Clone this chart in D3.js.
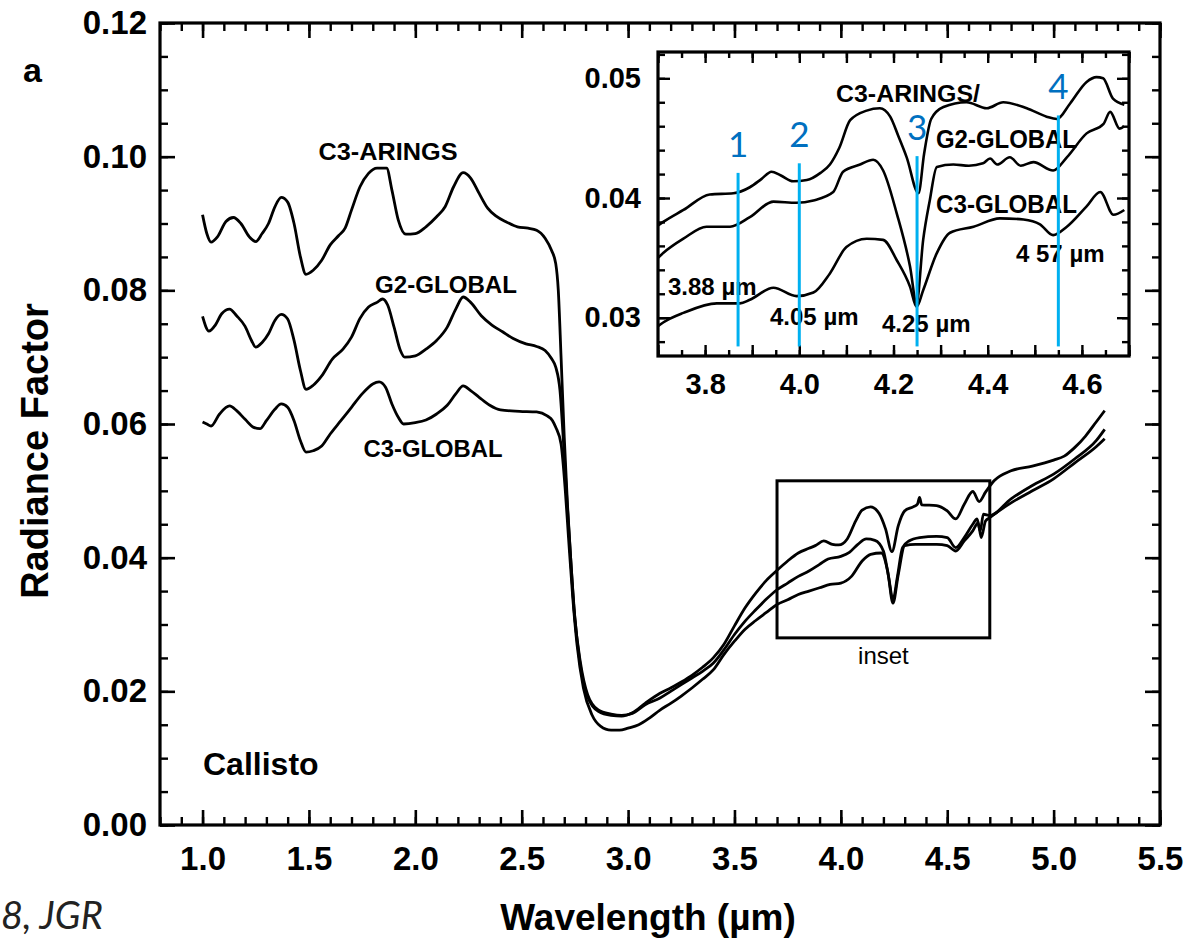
<!DOCTYPE html>
<html><head><meta charset="utf-8">
<script src="https://cdn.jsdelivr.net/npm/d3@7"></script>
<style>
html,body{margin:0;padding:0;background:#fff;}
svg{display:block;}
</style></head>
<body>
<svg id="chart" width="1188" height="942"></svg>
<script>
// ---------------- DATA ----------------
const mainXTicks = [1.0, 1.5, 2.0, 2.5, 3.0, 3.5, 4.0, 4.5, 5.0, 5.5];
const mainYTicks = [0.00, 0.02, 0.04, 0.06, 0.08, 0.10, 0.12];
const insetXTicks = [3.8, 4.0, 4.2, 4.4, 4.6];
const insetYTicks = [0.03, 0.04, 0.05];
const seriesNames = ["C3-ARINGS", "G2-GLOBAL", "C3-GLOBAL"];

const c3Arings = [
 [1.00,0.0913],[1.02,0.0885],[1.04,0.0872],[1.07,0.0880],[1.11,0.0903],[1.145,0.0909],[1.18,0.0900],
 [1.22,0.0880],[1.25,0.0873],[1.28,0.0885],[1.31,0.0900],[1.34,0.0925],[1.37,0.0939],[1.40,0.0932],
 [1.43,0.0900],[1.46,0.0850],[1.486,0.0824],[1.52,0.0830],[1.56,0.0845],[1.60,0.0868],[1.64,0.0882],
 [1.67,0.0893],[1.70,0.0920],[1.74,0.0955],[1.78,0.0975],[1.82,0.0983],[1.865,0.0983],[1.89,0.0950],
 [1.92,0.0905],[1.955,0.0884],[2.00,0.0885],[2.05,0.0895],[2.10,0.0910],[2.14,0.0925],[2.18,0.0955],
 [2.225,0.0976],[2.26,0.0968],[2.30,0.0945],[2.34,0.0923],[2.38,0.0911],[2.43,0.0902],[2.48,0.0895],
 [2.53,0.0893],[2.57,0.0890],[2.61,0.0878],[2.64,0.0860],[2.66,0.0840],[2.672,0.0800],[2.685,0.0700],
 [2.70,0.0580],[2.715,0.0480],[2.73,0.0400],[2.75,0.0310],[2.775,0.0240],[2.81,0.0192],[2.86,0.0170],
 [2.92,0.0164],[2.97,0.0163],[3.02,0.0168],[3.08,0.0182],[3.15,0.0197],[3.20,0.0205],[3.25,0.0214],
 [3.30,0.0224],[3.35,0.0236],[3.40,0.0250],[3.45,0.0270],[3.50,0.0298],[3.55,0.0325],[3.60,0.0347],
 [3.65,0.0366],[3.70,0.0381],[3.75,0.0395],[3.80,0.0407],[3.85,0.0414],[3.88,0.0418],[3.92,0.0425],
 [3.96,0.0420],[3.99,0.0419],[4.03,0.0428],[4.07,0.0455],[4.10,0.0471],[4.14,0.0476],[4.18,0.0466],
 [4.21,0.0443],[4.24,0.0409],[4.27,0.0448],[4.30,0.0470],[4.34,0.0476],[4.36,0.0480],[4.37,0.0490],
 [4.38,0.0479],[4.45,0.0478],[4.50,0.0470],[4.54,0.0458],[4.58,0.0480],[4.62,0.0499],[4.65,0.0484],
 [4.68,0.0498],[4.72,0.0515],[4.80,0.0530],[4.90,0.0537],[5.00,0.0546],[5.05,0.0552],[5.10,0.0565],
 [5.15,0.0582],[5.20,0.0603],[5.24,0.0620]
];
const g2Global = [
 [1.00,0.0761],[1.03,0.0739],[1.06,0.0748],[1.09,0.0765],[1.127,0.0772],[1.16,0.0762],[1.20,0.0746],
 [1.23,0.0725],[1.25,0.0715],[1.28,0.0722],[1.31,0.0735],[1.34,0.0755],[1.37,0.0764],[1.40,0.0757],
 [1.43,0.0725],[1.46,0.0680],[1.486,0.0652],[1.52,0.0658],[1.56,0.0672],[1.61,0.0697],[1.66,0.0712],
 [1.70,0.0730],[1.74,0.0758],[1.78,0.0775],[1.82,0.0782],[1.846,0.0787],[1.87,0.0778],[1.90,0.0745],
 [1.93,0.0710],[1.95,0.0700],[2.00,0.0702],[2.05,0.0712],[2.10,0.0725],[2.15,0.0745],[2.19,0.0772],
 [2.225,0.0790],[2.26,0.0782],[2.31,0.0762],[2.36,0.0748],[2.41,0.0738],[2.46,0.0728],[2.52,0.0720],
 [2.57,0.0716],[2.61,0.0710],[2.64,0.0698],[2.66,0.0685],[2.68,0.0650],[2.695,0.0580],[2.712,0.0490],
 [2.728,0.0410],[2.748,0.0315],[2.775,0.0245],[2.81,0.0195],[2.86,0.0172],[2.92,0.0166],[2.97,0.0164],
 [3.02,0.0167],[3.08,0.0180],[3.15,0.0190],[3.20,0.0200],[3.25,0.0210],[3.30,0.0220],[3.35,0.0230],
 [3.40,0.0242],[3.45,0.0262],[3.50,0.0285],[3.55,0.0305],[3.60,0.0322],[3.65,0.0338],[3.70,0.0352],
 [3.75,0.0362],[3.80,0.0372],[3.85,0.0380],[3.90,0.0390],[3.94,0.0398],[4.00,0.0402],[4.04,0.0408],
 [4.08,0.0420],[4.12,0.0428],[4.16,0.0426],[4.20,0.0410],[4.225,0.0370],[4.245,0.0337],[4.265,0.0370],
 [4.29,0.0415],[4.32,0.0425],[4.37,0.0430],[4.45,0.0432],[4.50,0.0430],[4.54,0.0415],[4.58,0.0430],
 [4.62,0.0450],[4.64,0.0458],[4.655,0.0440],[4.67,0.0465],[4.70,0.0463],[4.80,0.0488],[4.90,0.0508],
 [5.00,0.0525],[5.10,0.0548],[5.20,0.0575],[5.24,0.0592]
];
const c3Global = [
 [1.00,0.0603],[1.02,0.0600],[1.04,0.0597],[1.08,0.0615],[1.127,0.0627],[1.16,0.0620],[1.20,0.0607],
 [1.24,0.0595],[1.27,0.0593],[1.30,0.0605],[1.34,0.0622],[1.37,0.0630],[1.40,0.0625],[1.43,0.0605],
 [1.46,0.0575],[1.486,0.0558],[1.52,0.0560],[1.56,0.0567],[1.60,0.0585],[1.65,0.0605],[1.70,0.0625],
 [1.75,0.0645],[1.80,0.0660],[1.83,0.0663],[1.86,0.0655],[1.89,0.0630],[1.92,0.0610],[1.945,0.0600],
 [2.00,0.0602],[2.05,0.0606],[2.10,0.0615],[2.15,0.0628],[2.19,0.0645],[2.225,0.0657],[2.26,0.0650],
 [2.30,0.0640],[2.35,0.0628],[2.40,0.0621],[2.49,0.0619],[2.57,0.0618],[2.62,0.0612],[2.645,0.0605],
 [2.66,0.0595],[2.685,0.0570],[2.705,0.0500],[2.72,0.0430],[2.74,0.0340],[2.76,0.0270],[2.79,0.0205],
 [2.83,0.0165],[2.87,0.0148],[2.92,0.0142],[2.96,0.0142],[3.00,0.0145],[3.05,0.0150],[3.10,0.0160],
 [3.15,0.0172],[3.20,0.0182],[3.25,0.0193],[3.30,0.0205],[3.35,0.0218],[3.40,0.0232],[3.45,0.0255],
 [3.50,0.0275],[3.55,0.0293],[3.60,0.0306],[3.65,0.0318],[3.70,0.0330],[3.75,0.0337],[3.80,0.0345],
 [3.85,0.0350],[3.90,0.0355],[3.95,0.0360],[4.00,0.0362],[4.05,0.0372],[4.10,0.0395],[4.14,0.0405],
 [4.19,0.0407],[4.22,0.0380],[4.245,0.0332],[4.27,0.0375],[4.30,0.0418],[4.35,0.0420],[4.45,0.0420],
 [4.50,0.0418],[4.54,0.0410],[4.58,0.0425],[4.62,0.0440],[4.645,0.0452],[4.66,0.0430],[4.68,0.0455],
 [4.70,0.0460],[4.80,0.0482],[4.90,0.0500],[5.00,0.0518],[5.10,0.0542],[5.20,0.0566],[5.24,0.0578]
];

const insetC3Arings = [
 [3.70,0.0377],[3.711,0.0380],[3.754,0.0390],[3.81,0.0403],[3.86,0.0404],[3.895,0.0409],[3.92,0.0416],
 [3.941,0.0422],[3.96,0.0419],[3.987,0.0414],[4.016,0.0415],[4.045,0.0421],[4.065,0.0428],[4.085,0.0442],
 [4.108,0.0465],[4.143,0.0473],[4.171,0.0475],[4.193,0.0468],[4.21,0.0452],[4.228,0.0434],[4.253,0.0404],
 [4.265,0.0437],[4.28,0.0466],[4.306,0.0476],[4.355,0.0480],[4.398,0.0475],[4.433,0.0480],[4.483,0.0475],
 [4.525,0.0468],[4.547,0.0466],[4.575,0.0479],[4.61,0.0497],[4.631,0.0501],[4.645,0.0500],[4.666,0.0483],
 [4.69,0.0478]
];
const insetG2Global = [
 [3.70,0.0350],[3.711,0.0354],[3.754,0.0366],[3.803,0.0376],[3.853,0.0376],[3.895,0.0384],[3.945,0.0397],
 [3.994,0.0396],[4.03,0.0398],[4.072,0.0405],[4.093,0.0422],[4.129,0.0428],[4.157,0.0432],[4.178,0.0423],
 [4.207,0.0387],[4.235,0.0343],[4.249,0.0312],[4.263,0.0365],[4.277,0.0398],[4.292,0.0426],[4.327,0.0428],
 [4.36,0.0427],[4.39,0.0429],[4.405,0.0433],[4.42,0.0428],[4.447,0.0434],[4.47,0.0427],[4.497,0.0430],
 [4.539,0.0423],[4.568,0.0434],[4.61,0.0454],[4.646,0.0462],[4.66,0.0472],[4.68,0.0458],[4.69,0.0460]
];
const insetC3Global = [
 [3.70,0.0293],[3.711,0.0296],[3.754,0.0304],[3.825,0.0312],[3.874,0.0312],[3.895,0.0315],[3.945,0.0325],
 [3.994,0.0318],[4.03,0.0321],[4.065,0.0337],[4.10,0.0359],[4.143,0.0366],[4.178,0.0365],[4.207,0.0348],
 [4.235,0.0326],[4.249,0.0309],[4.263,0.0323],[4.292,0.0354],[4.32,0.0371],[4.37,0.0376],[4.426,0.0383],
 [4.476,0.0382],[4.511,0.0378],[4.539,0.0369],[4.568,0.0376],[4.61,0.0393],[4.639,0.0405],[4.667,0.0386],
 [4.69,0.0390]
];

const insetBoxX = [3.7, 4.7];
const insetBoxY = [0.028, 0.0515];
const featureLabels = ["3.88 µm", "4.05 µm", "4.25 µm", "4 57 µm"];
const markerNumbers = ["1", "2", "3", "4"];
const markerX = [3.87, 4.00, 4.25, 4.55];
const markerTop = [0.0421, 0.0429, 0.0435, 0.0469];
const markerBottom = 0.0276;

// ---------------- DRAW ----------------
const svg = d3.select("#chart");
const HELV = "'Liberation Sans', Arial, Helvetica, sans-serif";

const x = d3.scaleLinear().domain([0.8, 5.5]).range([160, 1160]);
const y = d3.scaleLinear().domain([0, 0.12]).range([825, 23]);

const mainXMinor = d3.range(8, 56).map(i => i / 10);
const mainYMinor = d3.range(0, 25).map(i => i * 0.005);

function styleAxis(g, sw) {
  g.select(".domain").remove();
  g.selectAll(".tick line").attr("stroke", "#000").attr("stroke-width", sw);
}

svg.append("g").attr("transform", `translate(0,${y(0)})`)
  .call(d3.axisBottom(x).tickValues(mainXMinor).tickSizeInner(-8).tickSizeOuter(0).tickFormat(""))
  .call(g => styleAxis(g, 2.4));
svg.append("g").attr("transform", `translate(0,${y(0.12)})`)
  .call(d3.axisTop(x).tickValues(mainXMinor).tickSizeInner(-8).tickSizeOuter(0).tickFormat(""))
  .call(g => styleAxis(g, 2.4));
svg.append("g").attr("transform", `translate(${x(0.8)},0)`)
  .call(d3.axisLeft(y).tickValues(mainYMinor).tickSizeInner(-8).tickSizeOuter(0).tickFormat(""))
  .call(g => styleAxis(g, 2.4));
svg.append("g").attr("transform", `translate(${x(5.5)},0)`)
  .call(d3.axisRight(y).tickValues(mainYMinor).tickSizeInner(-8).tickSizeOuter(0).tickFormat(""))
  .call(g => styleAxis(g, 2.4));

svg.append("g").attr("transform", `translate(0,${y(0)})`)
  .call(d3.axisBottom(x).tickValues(mainXTicks).tickSizeInner(-15).tickSizeOuter(0).tickPadding(22).tickFormat(d3.format(".1f")))
  .call(g => styleAxis(g, 2.6))
  .call(g => g.selectAll("text").attr("font-family", HELV).attr("font-size", 33).attr("font-weight", "bold").attr("fill", "#000"));
svg.append("g").attr("transform", `translate(0,${y(0.12)})`)
  .call(d3.axisTop(x).tickValues(mainXTicks).tickSizeInner(-15).tickSizeOuter(0).tickFormat(""))
  .call(g => styleAxis(g, 2.6));
svg.append("g").attr("transform", `translate(${x(0.8)},0)`)
  .call(d3.axisLeft(y).tickValues(mainYTicks).tickSizeInner(-15).tickSizeOuter(0).tickPadding(13).tickFormat(d3.format(".2f")))
  .call(g => styleAxis(g, 2.6))
  .call(g => g.selectAll("text").attr("font-family", HELV).attr("font-size", 33).attr("font-weight", "bold").attr("fill", "#000"));
svg.append("g").attr("transform", `translate(${x(5.5)},0)`)
  .call(d3.axisRight(y).tickValues(mainYTicks).tickSizeInner(-15).tickSizeOuter(0).tickFormat(""))
  .call(g => styleAxis(g, 2.6));

svg.append("rect")
  .attr("x", x(0.8)).attr("y", y(0.12))
  .attr("width", x(5.5) - x(0.8)).attr("height", y(0) - y(0.12))
  .attr("fill", "none").attr("stroke", "#000").attr("stroke-width", 3.2);

const line = d3.line().x(d => x(d[0])).y(d => y(d[1])).curve(d3.curveMonotoneX);
[c3Arings, g2Global, c3Global].forEach(s => {
  svg.append("path").datum(s).attr("d", line)
    .attr("fill", "none").attr("stroke", "#000").attr("stroke-width", 2.8)
    .attr("stroke-linejoin", "round");
});

svg.append("rect")
  .attr("x", x(insetBoxX[0])).attr("y", y(insetBoxY[1]))
  .attr("width", x(insetBoxX[1]) - x(insetBoxX[0])).attr("height", y(insetBoxY[0]) - y(insetBoxY[1]))
  .attr("fill", "none").attr("stroke", "#000").attr("stroke-width", 3);

function txt(t, xx, yy, size, opts = {}) {
  const e = svg.append("text").text(t).attr("x", xx).attr("y", yy)
    .attr("font-family", opts.family || HELV).attr("font-size", size)
    .attr("font-weight", opts.weight || "bold").attr("fill", opts.fill || "#000")
    .attr("text-anchor", opts.anchor || "start");
  if (opts.style) e.attr("font-style", opts.style);
  if (opts.len) e.attr("textLength", opts.len).attr("lengthAdjust", "spacingAndGlyphs");
  return e;
}
txt("a", 23, 82, 34);
txt(seriesNames[0], 388, 160, 23, {anchor: "middle", len: 139});
txt(seriesNames[1], 446, 293, 23, {anchor: "middle", len: 142});
txt(seriesNames[2], 433, 457, 23, {anchor: "middle", len: 139});
txt("inset", x(4.2), 664, 24, {anchor: "middle", weight: "normal"});
txt("Callisto", 203, 775, 32);
svg.append("text").text("Radiance Factor")
  .attr("transform", "translate(48,451) rotate(-90)")
  .attr("text-anchor", "middle").attr("font-family", HELV).attr("font-size", 38).attr("font-weight", "bold");
txt("Wavelength (µm)", 648, 930, 37, {anchor: "middle"});
txt("8, JGR", 1, 929, 38, {family: "Lato, 'Open Sans', 'Noto Sans', sans-serif", weight: "normal", style: "italic", fill: "#222"});

// ---------------- INSET ----------------
const xi = d3.scaleLinear().domain([3.7, 4.7]).range([658, 1129]);
const yi = d3.scaleLinear().domain([0.0268, 0.0522]).range([356, 52]);

svg.append("rect").attr("x", xi(3.7)).attr("y", yi(0.0522))
  .attr("width", xi(4.7) - xi(3.7)).attr("height", yi(0.0268) - yi(0.0522))
  .attr("fill", "#fff");

svg.append("clipPath").attr("id", "insetClip").append("rect")
  .attr("x", xi(3.7)).attr("y", yi(0.0522))
  .attr("width", xi(4.7) - xi(3.7)).attr("height", yi(0.0268) - yi(0.0522));

const insetXMinor = d3.range(74, 95).map(i => i * 0.05);
const insetXMajor = d3.range(37, 48).map(i => i / 10);
const insetYMinor = d3.range(14, 27).map(i => i * 0.002);

[[d3.axisBottom, yi(0.0268), insetXMinor, -6], [d3.axisTop, yi(0.0522), insetXMinor, -6],
 [d3.axisBottom, yi(0.0268), insetXMajor, -11], [d3.axisTop, yi(0.0522), insetXMajor, -11]].forEach(([ax, ty, vals, sz]) => {
  svg.append("g").attr("transform", `translate(0,${ty})`)
    .call(ax(xi).tickValues(vals).tickSizeInner(sz).tickSizeOuter(0).tickFormat(""))
    .call(g => styleAxis(g, 2.4));
});
[[d3.axisLeft, xi(3.7), insetYMinor, -7], [d3.axisRight, xi(4.7), insetYMinor, -7],
 [d3.axisLeft, xi(3.7), insetYTicks, -12], [d3.axisRight, xi(4.7), insetYTicks, -12]].forEach(([ax, tx, vals, sz]) => {
  svg.append("g").attr("transform", `translate(${tx},0)`)
    .call(ax(yi).tickValues(vals).tickSizeInner(sz).tickSizeOuter(0).tickFormat(""))
    .call(g => styleAxis(g, 2.4));
});
svg.append("g").attr("transform", `translate(0,${yi(0.0268)})`)
  .call(d3.axisBottom(xi).tickValues(insetXTicks).tickSize(0).tickPadding(17).tickFormat(d3.format(".1f")))
  .call(g => g.select(".domain").remove())
  .call(g => g.selectAll("text").attr("font-family", HELV).attr("font-size", 29).attr("font-weight", "bold").attr("fill", "#000"));
svg.append("g").attr("transform", `translate(${xi(3.7)},0)`)
  .call(d3.axisLeft(yi).tickValues(insetYTicks).tickSize(0).tickPadding(17).tickFormat(d3.format(".2f")))
  .call(g => g.select(".domain").remove())
  .call(g => g.selectAll("text").attr("font-family", HELV).attr("font-size", 29).attr("font-weight", "bold").attr("fill", "#000"));

const lineI = d3.line().x(d => xi(d[0])).y(d => yi(d[1])).curve(d3.curveMonotoneX);
const insetG = svg.append("g").attr("clip-path", "url(#insetClip)");
[insetC3Arings, insetG2Global, insetC3Global].forEach(s => {
  insetG.append("path").datum(s).attr("d", lineI)
    .attr("fill", "none").attr("stroke", "#000").attr("stroke-width", 2.6).attr("stroke-linejoin", "round");
});

svg.append("rect").attr("x", xi(3.7)).attr("y", yi(0.0522))
  .attr("width", xi(4.7) - xi(3.7)).attr("height", yi(0.0268) - yi(0.0522))
  .attr("fill", "none").attr("stroke", "#000").attr("stroke-width", 3.2);

txt(seriesNames[0] + "/", 836, 102, 23, {len: 144});
txt(seriesNames[1], 936, 148, 25, {len: 141});
txt(seriesNames[2], 936, 213, 25, {len: 141});
txt(featureLabels[0], 668, 295, 24);
txt(featureLabels[1], 770, 325, 24);
txt(featureLabels[2], 882, 332, 24);
txt(featureLabels[3], 1016, 262, 24);

markerX.forEach((mx, i) => {
  svg.append("line")
    .attr("x1", xi(mx)).attr("x2", xi(mx))
    .attr("y1", yi(markerTop[i])).attr("y2", yi(markerBottom))
    .attr("stroke", "#00B0F0").attr("stroke-width", 3);
  svg.append("text").text(markerNumbers[i])
    .attr("x", xi(mx)).attr("y", yi(markerTop[i]) - 16)
    .attr("text-anchor", "middle")
    .attr("font-family", "Lato, 'Open Sans', 'Noto Sans', sans-serif")
    .attr("font-size", 35).attr("fill", "#0070C0");
});
</script>
</body></html>
